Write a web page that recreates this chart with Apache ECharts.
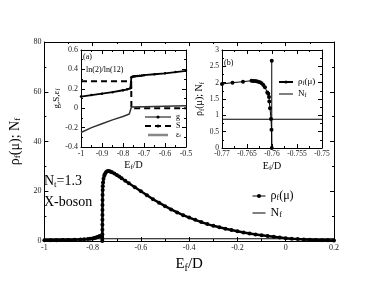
<!DOCTYPE html>
<html><head><meta charset="utf-8">
<script src="https://cdn.jsdelivr.net/npm/echarts@6/dist/echarts.min.js"></script>
<style>html,body{margin:0;padding:0;background:#fff}#c{width:387px;height:299px}</style>
</head><body><div id="c"></div>
<script>
// ---------- DATA ----------
// main panel: rho_f(mu) vs E_f/D
const rhoMain = [
  [-1,0.3],[-0.975,0.32],[-0.95,0.35],[-0.925,0.4],[-0.9,0.45],[-0.875,0.52],[-0.85,0.6],[-0.835,0.7],[-0.82,0.8],
  [-0.81,0.9],[-0.8,1.0],[-0.795,1.15],[-0.79,1.3],[-0.785,1.45],[-0.78,1.6],[-0.775,1.8],[-0.77,1.98],[-0.765,2.03],
  [-0.762,1.95],[-0.7605,1.6],[-0.7602,0.9],[-0.76,0],
  [-0.7599,2.7],[-0.7598,4.5],[-0.7597,6.5],[-0.7596,8.5],[-0.7595,10.5],[-0.7594,12.5],[-0.7593,14.5],
  [-0.7592,16.5],[-0.759,18.5],[-0.7585,20.5],[-0.758,22],[-0.757,23.5],[-0.755,25],[-0.752,26.2],
  [-0.75,26.8],[-0.745,27.6],[-0.74,28],[-0.735,28.1],[-0.73,28],[-0.725,27.8],[-0.72,27.6],[-0.71,27.1],
  [-0.7,26.5],[-0.69,25.9],[-0.68,25.2],[-0.665,24.2],[-0.65,23.2],[-0.625,21.6],[-0.6,20],[-0.575,18.4],
  [-0.55,16.8],[-0.525,15.4],[-0.5,14],[-0.475,12.7],[-0.45,11.5],[-0.425,10.4],[-0.4,9.4],[-0.375,8.5],
  [-0.35,7.6],[-0.325,6.8],[-0.3,6.1],[-0.275,5.5],[-0.25,4.9],[-0.225,4.4],[-0.2,3.9],[-0.175,3.4],
  [-0.15,3.0],[-0.125,2.6],[-0.1,2.3],[-0.075,2.0],[-0.05,1.7],[-0.025,1.4],[0,1.15],[0.025,0.95],
  [0.05,0.78],[0.075,0.63],[0.1,0.5],[0.125,0.42],[0.15,0.35],[0.175,0.3],[0.2,0.25]
];
const nfMain = [[-1,0.9],[0.2,0.9]];

// inset (a): g, S, eps_f vs E_f/D
const gData = [
  [-1,0.12],[-0.95,0.135],[-0.9,0.15],[-0.85,0.165],[-0.8,0.185],[-0.78,0.195],[-0.765,0.205],[-0.761,0.21],
  [-0.76,0.32],[-0.755,0.325],[-0.75,0.327],[-0.745,0.329],[-0.74,0.33],[-0.73,0.332],[-0.72,0.334],[-0.71,0.336],
  [-0.7,0.34],[-0.65,0.35],[-0.6,0.36],[-0.55,0.372],[-0.5,0.385]
];
const sData = [[-1,0.279],[-0.761,0.279],[-0.76,0],[-0.5,0]];
const epsData = [
  [-1,-0.25],[-0.95,-0.2],[-0.9,-0.16],[-0.85,-0.12],[-0.8,-0.085],[-0.77,-0.06],[-0.761,-0.05],
  [-0.76,0.012],[-0.7,0.015],[-0.6,0.02],[-0.5,0.025]
];

// inset (b): zoom near the transition
const rhoB = [
  [-0.77,1.96],[-0.7679,2.0],[-0.7658,2.03],[-0.7641,2.06],[-0.76376,2.05],[-0.76342,2.05],[-0.76309,2.04],
  [-0.76275,2.03],[-0.76242,2.01],[-0.76208,1.98],[-0.76174,1.93],[-0.76141,1.86],[-0.76094,1.70],
  [-0.76074,1.66],[-0.7606,1.56],[-0.76054,1.42],[-0.7604,1.22],[-0.7602,0.89],[-0.7601,0.56],
  [-0.76005,0],[-0.76005,2.67]
];
const nfB = [[-0.77,0.88],[-0.75,0.88]];

// ---------- CHART ----------
const FONT = 'Liberation Serif';
const chart = echarts.init(document.getElementById('c'));
function rich(base, lh){
  const o = {fontFamily: FONT, fontSize: base, color: '#000',
    rich: {s: {fontFamily: FONT, fontSize: Math.round(base*0.65), padding: [Math.round(base*0.45),0,0,0]}}};
  if (lh) { o.lineHeight = lh; o.rich.s.lineHeight = lh; o.rich.s.padding = [Math.round(base*0.3),0,0,0]; }
  return o;
}
function axis(gi, pos, min, max, interval, opts){
  return Object.assign({
    type: 'value', gridIndex: gi, position: pos, min: min, max: max, interval: interval,
    axisLine: {show: true, onZero: false, lineStyle: {color: '#000', width: 1}},
    axisTick: {show: true, inside: true, length: 4, lineStyle: {color: '#000'}},
    minorTick: {show: true, splitNumber: 2, length: 2, lineStyle: {color: '#000'}},
    splitLine: {show: false},
    axisLabel: {show: false}
  }, opts || {});
}
const lab = (fs, m) => ({show: true, fontFamily: FONT, fontSize: fs, color: '#222', margin: m});

const xAxes = [
  axis(0,'bottom',-1,0.2,0.2,{axisLabel: lab(8,3), name: 'E{s|f}/D', nameLocation: 'middle', nameGap: 13, nameTextStyle: rich(15)}),
  axis(0,'top',-1,0.2,0.2),
  axis(1,'bottom',-1,-0.5,0.1,{axisLabel: lab(8,3), name: 'E{s|f}/D', nameLocation: 'middle', nameGap: 12, nameTextStyle: rich(10)}),
  axis(1,'top',-1,-0.5,0.1),
  axis(2,'bottom',-0.77,-0.75,0.005,{axisLabel: lab(7.5,2), name: 'E{s|f}/D', nameLocation: 'middle', nameGap: 12, nameTextStyle: rich(10)}),
  axis(2,'top',-0.77,-0.75,0.005)
];
const yAxes = [
  axis(0,'left',0,80,20,{axisLabel: lab(8,3), name: 'ρ{s|f}(μ); N{s|f}', nameLocation: 'middle', nameGap: 14, nameTextStyle: rich(14)}),
  axis(0,'right',0,80,20),
  axis(1,'left',-0.4,0.6,0.2,{axisLabel: lab(8,3), name: 'g,S,ε{s|f}', nameLocation: 'middle', nameGap: 18, nameTextStyle: rich(9)}),
  axis(1,'right',-0.4,0.6,0.2),
  axis(2,'left',0,3,0.5,{axisLabel: lab(7.5,3), name: 'ρ{s|f}(μ); N{s|f}', nameLocation: 'middle', nameGap: 14, nameTextStyle: rich(10)}),
  axis(2,'right',0,3,0.5)
];

const legText = {rhoM: 'ρ{s|f}(μ)', nfM: 'N{s|f}', g: 'g', S: 'S', eps: 'ε{s|f}', rhoB: 'ρ{s|f}(μ)', nfB: 'N{s|f}'};
// horizontal bar icons, padded vertically so they keep a line-like thickness
const barIcon5 = 'path://M0,0L0.01,0L0,0.01Z M0,1.9H20V3.4H0Z M0,5L0.01,5L0,4.99Z';
const barIcon4 = 'path://M0,0L0.01,0L0,0.01Z M0,1.3H20V2.7H0Z M0,4L0.01,4L0,3.99Z';
const thickIcon4 = 'path://M0,0L0.01,0L0,0.01Z M0,0.8H20V3.2H0Z M0,4L0.01,4L0,3.99Z';

chart.setOption({
  animation: false,
  backgroundColor: '#fff',
  grid: [
    {left: 42, top: 42, width: 292, height: 199},
    {left: 81, top: 50, width: 105, height: 97, show: true, backgroundColor: '#fff', borderWidth: 0},
    {left: 222, top: 50, width: 100, height: 98, show: true, backgroundColor: '#fff', borderWidth: 0}
  ],
  xAxis: xAxes,
  yAxis: yAxes,
  legend: [
    {data: [{name: 'rhoM', lineStyle: {width: 1}}, {name: 'nfM', icon: barIcon5, itemStyle: {color: '#000'}}],
     orient: 'vertical', left: 247, top: 184, itemWidth: 13, itemHeight: 5, itemGap: 3,
     formatter: n => legText[n], textStyle: rich(12, 14)},
    {data: [{name: 'g', lineStyle: {width: 1}}, 'S', {name: 'eps', icon: thickIcon4, itemStyle: {color: '#888'}}],
     orient: 'vertical', left: 139, top: 108, itemWidth: 26, itemHeight: 4, itemGap: 1,
     formatter: n => legText[n], textStyle: rich(8, 8)},
    {data: ['rhoB', {name: 'nfB', icon: barIcon4, itemStyle: {color: '#000'}}],
     orient: 'vertical', left: 273, top: 72, itemWidth: 14, itemHeight: 4, itemGap: 2,
     formatter: n => legText[n], textStyle: rich(9, 10)}
  ],
  series: [
    {name: 'rhoM', type: 'line', xAxisIndex: 0, yAxisIndex: 0, data: rhoMain, symbol: 'circle', symbolSize: 4,
     showAllSymbol: true, itemStyle: {color: '#000'}, lineStyle: {color: '#000', width: 2.5}, z: 3},
    {name: 'nfM', type: 'line', xAxisIndex: 0, yAxisIndex: 0, data: nfMain, symbol: 'none',
     itemStyle: {color: '#000'}, lineStyle: {color: '#000', width: 1}, z: 2},
    {name: 'g', type: 'line', xAxisIndex: 2, yAxisIndex: 2, data: gData, symbol: 'circle', symbolSize: 2.5,
     showAllSymbol: true, itemStyle: {color: '#000'}, lineStyle: {color: '#000', width: 1.8}, z: 3},
    {name: 'S', type: 'line', xAxisIndex: 2, yAxisIndex: 2, data: sData, symbol: 'none',
     itemStyle: {color: '#000'}, lineStyle: {color: '#000', width: 2, type: [6, 4]}, z: 3},
    {name: 'eps', type: 'line', xAxisIndex: 2, yAxisIndex: 2, data: epsData, symbol: 'none',
     itemStyle: {color: '#555'}, lineStyle: {color: '#333', width: 1.5}, z: 3},
    {name: 'rhoB', type: 'line', xAxisIndex: 4, yAxisIndex: 4, data: rhoB, symbol: 'circle', symbolSize: 4,
     showAllSymbol: true, itemStyle: {color: '#000'}, lineStyle: {color: '#000', width: 1}, z: 3},
    {name: 'nfB', type: 'line', xAxisIndex: 4, yAxisIndex: 4, data: nfB, symbol: 'none',
     itemStyle: {color: '#000'}, lineStyle: {color: '#000', width: 1.2}, z: 2}
  ],
  graphic: [
    {type: 'text', left: 44, top: 174, style: {text: 'N{s|t}=1.3', font: '14px "Liberation Serif"', fill: '#000',
      rich: {s: {fontFamily: FONT, fontSize: 9, padding: [7,0,0,0]}}}},
    {type: 'text', left: 44, top: 195, style: {text: 'X-boson', font: '14px "Liberation Serif"', fill: '#000'}},
    {type: 'text', left: 83, top: 53, z: 10, style: {text: '(a)', font: '8px "Liberation Serif"', fill: '#000'}},
    {type: 'text', left: 86, top: 66, z: 10, style: {text: 'ln(2)/ln(12)', font: '8px "Liberation Serif"', fill: '#000'}},
    {type: 'text', left: 224, top: 59, z: 10, style: {text: '(b)', font: '8px "Liberation Serif"', fill: '#000'}}
  ]
});
</script></body></html>
